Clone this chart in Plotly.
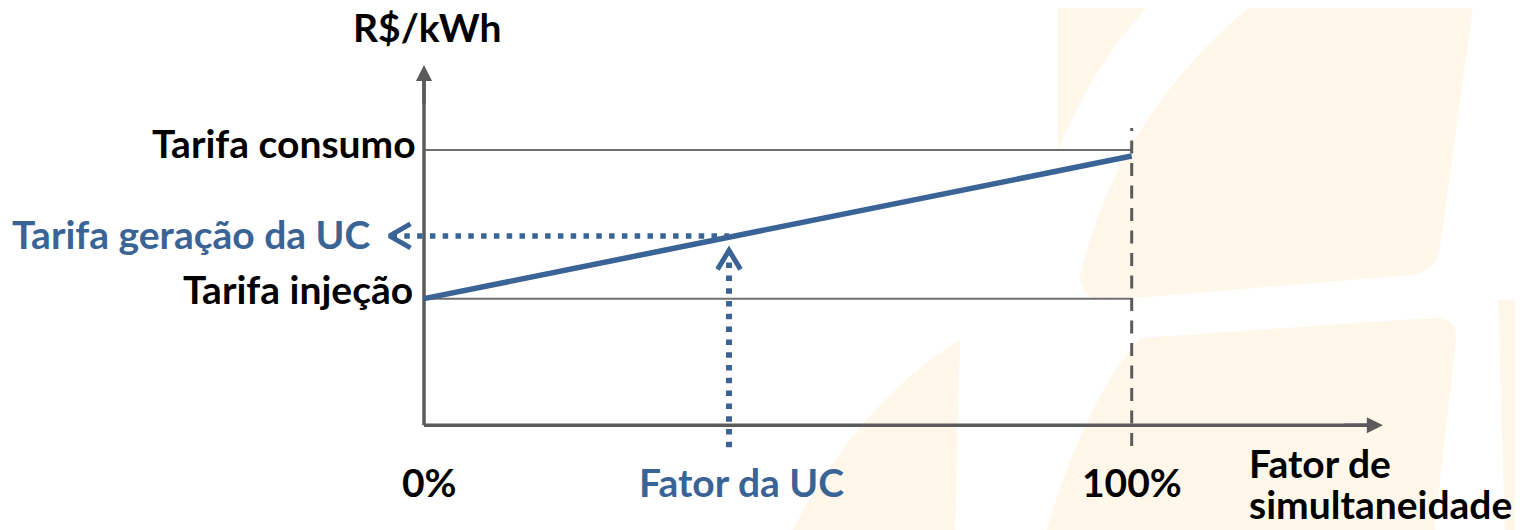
import plotly.graph_objects as go

# ---------------- data ----------------
x_pct = [0, 100]                      # Fator de simultaneidade (%)
tarifa_injecao = 0.46                 # R$/kWh (relative units)
tarifa_consumo = 1.00
linha_tarifa = [0.46, 0.978]          # blue line at 0% and 100%
fator_uc = 43.1                       # %
tarifa_geracao_uc = 0.688
x_axis_end = 135.5
y_axis_end = 1.309
dashed_100_range = [-0.075, 1.08]
dotted_v_bottom = -0.08

tick_labels_x = ["0%", "Fator da UC", "100%"]
tick_labels_y = ["Tarifa consumo", "Tarifa geração da UC", "Tarifa injeção"]
axis_title_y = "R$/kWh"
axis_title_x = ["Fator de", "simultaneidade"]

# ---------------- layout constants ----------------
PAGE_W, PAGE_H = 1523, 530
BODY = 8                     # default page margin of the html body
W, H = PAGE_W - BODY, PAGE_H - BODY
PX_X = 7.077      # pixels per x unit
PX_Y = 275.3      # pixels per y unit
X0_PX, Y0_PX = 424.0 - BODY, 425.3 - BODY
xr = [-X0_PX / PX_X, (W - X0_PX) / PX_X]
yr = [-(H - Y0_PX) / PX_Y, Y0_PX / PX_Y]

BLUE = "#3A6396"
GRAY = "#5B5B5B"
LGRAY = "#6F6F6F"
CREAM = "#FFF8EA"
FONT = "Lato"
FS = 39


def dx(px):
    return px / PX_X


def dy(px):
    return px / PX_Y


fig = go.Figure()

# reference horizontal lines
for yv in (tarifa_consumo, tarifa_injecao):
    fig.add_trace(go.Scatter(x=x_pct, y=[yv, yv], mode="lines",
                             line=dict(color=LGRAY, width=2), hoverinfo="skip"))

# dashed vertical at 100%
fig.add_trace(go.Scatter(x=[x_pct[1], x_pct[1]], y=dashed_100_range, mode="lines",
                         line=dict(color=GRAY, width=3, dash="13px,9.5px"), hoverinfo="skip"))

# blue dotted guides
tip_h_x = -dx(34.5)
fig.add_trace(go.Scatter(x=[tip_h_x + dx(2), fator_uc], y=[tarifa_geracao_uc] * 2, mode="lines",
                         line=dict(color=BLUE, width=5.5, dash="5.5px,7.3px"), hoverinfo="skip"))
tip_v_y = tarifa_geracao_uc - dy(14.5)
fig.add_trace(go.Scatter(x=[fator_uc, fator_uc], y=[dotted_v_bottom, tip_v_y - dy(2)], mode="lines",
                         line=dict(color=BLUE, width=6, dash="5.5px,7.3px"), hoverinfo="skip"))

# chevrons (open arrowheads)
fig.add_trace(go.Scatter(x=[tip_h_x + dx(21), tip_h_x, tip_h_x + dx(21)],
                         y=[tarifa_geracao_uc + dy(12), tarifa_geracao_uc, tarifa_geracao_uc - dy(12)],
                         mode="lines", line=dict(color=BLUE, width=5), hoverinfo="skip"))
fig.add_trace(go.Scatter(x=[fator_uc - dx(11.5), fator_uc, fator_uc + dx(11.5)],
                         y=[tip_v_y - dy(19), tip_v_y, tip_v_y - dy(19)],
                         mode="lines", line=dict(color=BLUE, width=5), hoverinfo="skip"))

# axes
fig.add_trace(go.Scatter(x=[0, 0], y=[0, y_axis_end - dy(14)], mode="lines",
                         line=dict(color=GRAY, width=3.5), hoverinfo="skip"))
fig.add_trace(go.Scatter(x=[0, x_axis_end - dx(14)], y=[0, 0], mode="lines",
                         line=dict(color=GRAY, width=3.5), hoverinfo="skip"))

# main blue line
fig.add_trace(go.Scatter(x=x_pct, y=linha_tarifa, mode="lines",
                         line=dict(color=BLUE, width=5.5), hoverinfo="skip"))

annotations = []
# axis arrowheads
annotations.append(dict(x=0, y=y_axis_end, ax=0, ay=y_axis_end - dy(40), xref="x", yref="y",
                        axref="x", ayref="y", text="", showarrow=True, arrowhead=2,
                        arrowsize=0.92, arrowwidth=3.5, arrowcolor=GRAY))
annotations.append(dict(x=x_axis_end, y=0, ax=x_axis_end - dx(40), ay=0, xref="x", yref="y",
                        axref="x", ayref="y", text="", showarrow=True, arrowhead=2,
                        arrowsize=0.92, arrowwidth=3.5, arrowcolor=GRAY))


def label(text, x, y, color="black", xanchor="center", xshift=0, yshift=0, height=None):
    a = dict(x=x, y=y, xref="x", yref="y", text="<b>" + text + "</b>",
             showarrow=False, xanchor=xanchor, yanchor="middle",
             xshift=xshift, yshift=yshift, align="left",
             font=dict(family=FONT, size=FS, color=color))
    if height:
        a["height"] = height
        a["valign"] = "middle"
    annotations.append(a)


label(axis_title_y, 0, dy(425.3 - 27), xshift=2.5)
label(tick_labels_y[0], 0, tarifa_consumo, xanchor="right", xshift=-6, yshift=7.5)
label(tick_labels_y[1], tip_h_x, tarifa_geracao_uc, color=BLUE, xanchor="right", xshift=-17, yshift=2)
label(tick_labels_y[2], 0, tarifa_injecao, xanchor="right", xshift=-9, yshift=10)
label(tick_labels_x[0], 0, -dy(56.2), xshift=5.5)
label(tick_labels_x[1], fator_uc, -dy(56.2), color=BLUE, xshift=12.5)
label(tick_labels_x[2], x_pct[1], -dy(56.2))
label(axis_title_x[0], x_axis_end - dx(136), -dy(37.2), xanchor="left", height=40)
label(axis_title_x[1], x_axis_end - dx(136), -dy(78.2), xanchor="left", height=40)


# watermark shapes (decorative background, page pixels -> paper)
def path(cmds):
    out = []
    for c in cmds:
        if isinstance(c, str):
            out.append(c)
        else:
            out.append("%.5f,%.5f" % ((c[0] - BODY) / W, 1 - (c[1] - BODY) / H))
    return " ".join(out)


wm = [
    ["M", (1058, 0), "L", (1154, 0), "Q", (1095, 60), (1058, 150), "Z"],
    ["M", (1258, 0), "L", (1474, 0), "L", (1440, 248), "Q", (1436, 272), (1410, 275),
     "L", (1112, 300), "Q", (1082, 303), (1080, 276), "Q", (1120, 110), (1258, 0), "Z"],
    ["M", (1140, 338), "L", (1430, 318), "Q", (1458, 316), (1456, 340), "L", (1434, 535),
     "L", (1045, 535), "Q", (1085, 400), (1140, 338), "Z"],
    ["M", (790, 535), "Q", (860, 400), (960, 340), "L", (955, 535), "Z"],
    ["M", (1498, 300), "L", (1530, 300), "L", (1530, 535), "L", (1505, 535), "Z"],
]
shapes = []
for p in wm:
    shapes.append(dict(type="path", xref="paper", yref="paper", path=path(p),
                       fillcolor=CREAM, line=dict(width=0), layer="below"))

fig.update_layout(
    width=W, height=H,
    margin=dict(l=0, r=0, t=0, b=0),
    paper_bgcolor="white", plot_bgcolor="rgba(0,0,0,0)",
    showlegend=False,
    xaxis=dict(range=xr, visible=False, fixedrange=True),
    yaxis=dict(range=yr, visible=False, fixedrange=True),
    annotations=annotations,
    shapes=shapes,
)

fig.write_html("out.html")
